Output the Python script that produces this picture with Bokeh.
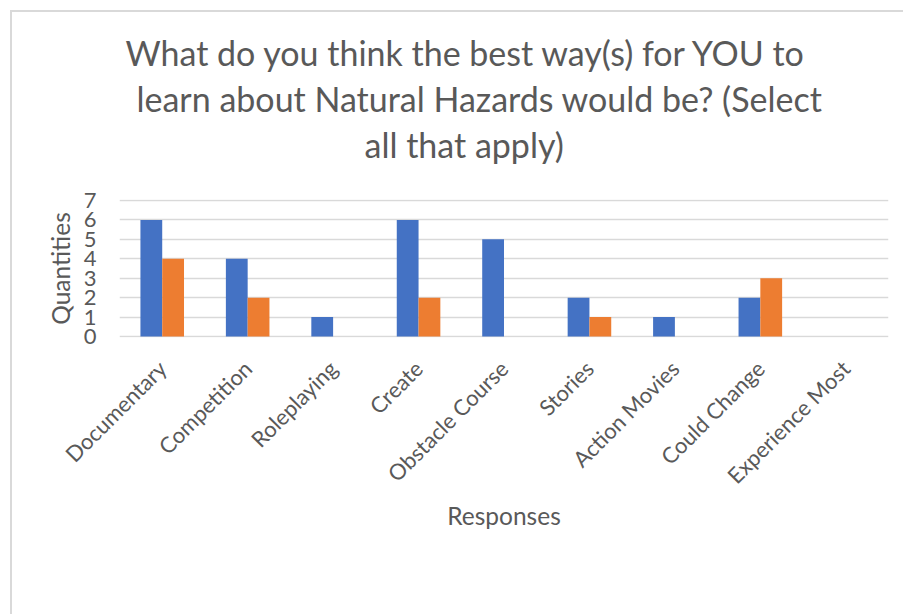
import math

from bokeh.embed import file_html
from bokeh.models import (FactorRange, FixedTicker, Legend, LegendItem, Range1d,
                          Title)
from bokeh.plotting import figure
from bokeh.resources import INLINE
from bokeh.transform import dodge

# --- data -------------------------------------------------------------------
categories = ["Documentary", "Competition", "Roleplaying", "Create",
              "Obstacle Course", "Stories", "Action Movies", "Could Change",
              "Experience Most"]
initial_survey = [6, 4, 1, 6, 5, 2, 1, 2, 0]
end_survey = [4, 2, 0, 2, 0, 1, 0, 3, 0]
y_ticks = [0, 1, 2, 3, 4, 5, 6, 7]

title_lines = ["What do you think the best way(s) for YOU to",
               "learn about Natural Hazards would be? (Select",
               "all that apply)"]

# --- layout -----------------------------------------------------------------
W = 903
FRAME_L, FRAME_R, FRAME_T, FRAME_B = 119, 888, 199, 337
AXIS_BAND = 216          # space under the plot area kept for the category axis
Y_LO, Y_HI = -0.05, 7.05
FONT = "Lato"
GREY = "#595959"
RULE = "#d9d9d9"
BLUE, ORANGE = "#4472C4", "#ED7D31"

p = figure(frame_width=FRAME_R - FRAME_L, frame_height=FRAME_B - FRAME_T,
           x_range=FactorRange(*categories, range_padding=0),
           y_range=Range1d(Y_LO, Y_HI),
           min_border_left=FRAME_L, min_border_right=W - FRAME_R,
           min_border_top=FRAME_T, min_border_bottom=AXIS_BAND,
           output_backend="svg", toolbar_location=None)
p.title.visible = False
p.outline_line_color = None
p.background_fill_color = "white"
p.border_fill_alpha = 0
# chart-area border: thin rules along the top and left edges, painted
# behind the transparent canvas
p.styles = {
    "background": (f"linear-gradient({RULE}, {RULE}) 10px 10px / 2px 100% no-repeat, "
                   f"linear-gradient({RULE}, {RULE}) 10px 10px / 100% 2px no-repeat, "
                   "white"),
}

source = dict(cat=categories, initial=initial_survey, end=end_survey)
r_init = p.vbar(x=dodge("cat", -0.1275, range=p.x_range), top="initial",
                width=0.255, source=source, fill_color=BLUE, line_color=None)
r_end = p.vbar(x=dodge("cat", 0.1275, range=p.x_range), top="end",
               width=0.255, source=source, fill_color=ORANGE, line_color=None)

# grid
p.xgrid.grid_line_color = None
p.ygrid.grid_line_color = RULE
p.ygrid.grid_line_width = 1.6
p.ygrid.ticker = FixedTicker(ticks=y_ticks)

# value axis
p.yaxis.ticker = FixedTicker(ticks=y_ticks)
p.yaxis.axis_line_color = None
p.yaxis.major_tick_line_color = None
p.yaxis.minor_tick_line_color = None
p.yaxis.major_label_standoff = 17
p.yaxis.major_label_text_font = FONT
p.yaxis.major_label_text_font_size = "22px"
p.yaxis.major_label_text_color = GREY
p.yaxis.axis_label = "Quantities"
p.yaxis.axis_label_standoff = 6
p.yaxis.axis_label_text_font = FONT
p.yaxis.axis_label_text_font_size = "24.5px"
p.yaxis.axis_label_text_font_style = "normal"
p.yaxis.axis_label_text_color = GREY

# category axis
p.xaxis.axis_line_color = None
p.xaxis.major_tick_line_color = None
p.xaxis.minor_tick_line_color = None
p.xaxis.major_label_orientation = math.pi / 4
p.xaxis.major_label_standoff = 21
p.xaxis.major_label_text_font = FONT
p.xaxis.major_label_text_font_size = "22px"
p.xaxis.major_label_text_color = GREY
p.xaxis.axis_label = "Responses"
p.xaxis.axis_label_standoff = 0
p.xaxis.axis_label_text_font = FONT
p.xaxis.axis_label_text_font_size = "24.5px"
p.xaxis.axis_label_text_font_style = "normal"
p.xaxis.axis_label_text_color = GREY

# chart title, one Title per line; panels stack outward from the frame,
# so the last line goes in first (its trailing newline keeps a gap above
# the plot area)
title_offsets = [6, 17, 245]
title_standoffs = [-13, 19.4, -13]
for i in (2, 1, 0):
    text = title_lines[i] + ("\n" if i == 2 else "")
    p.add_layout(Title(text=text, align="left", offset=title_offsets[i],
                       standoff=title_standoffs[i], text_font=FONT,
                       text_font_size="34px", text_font_style="normal",
                       text_color=GREY), "above")

# legend under the axis band; a fixed label width keeps the two entries spaced
legend = Legend(items=[LegendItem(label="Initial Survey", renderers=[r_init]),
                       LegendItem(label="End Survey", renderers=[r_end])],
                orientation="horizontal", location="bottom_center",
                glyph_width=17, glyph_height=17, label_standoff=4,
                label_width=157, spacing=0,
                padding=0, margin=16, border_line_color=None,
                background_fill_alpha=0, label_text_font=FONT,
                label_text_font_size="22px", label_text_color=GREY)
p.add_layout(legend, "below")

open("out.html", "w").write(file_html(p, INLINE))
